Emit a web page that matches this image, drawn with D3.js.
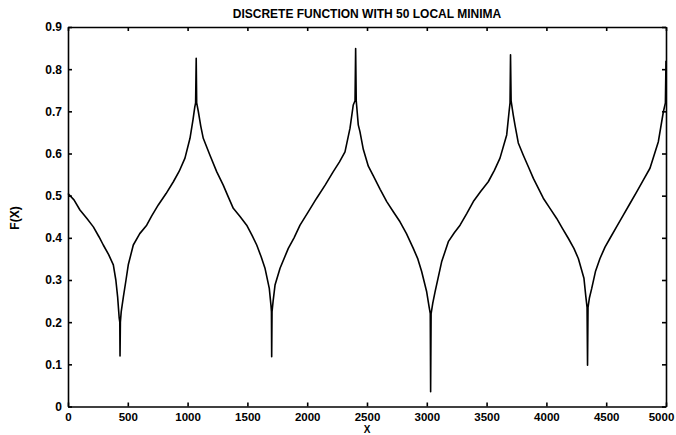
<!DOCTYPE html>
<html>
<head>
<meta charset="utf-8">
<script src="https://cdn.jsdelivr.net/npm/d3@7"></script>
<style>
  body { margin: 0; background: #fff; }
  svg { display: block; font-family: "Liberation Sans", Arial, sans-serif; }
  .axis text { font-size: 12px; font-weight: bold; fill: #000; }
  .x-axis text { font-size: 11.5px; }
  .axis path, .axis line { stroke: #000; stroke-width: 1.6px; }
</style>
</head>
<body>
<svg id="chart" width="676" height="435"></svg>
<script>
// values
const xValues = [
  0, 50, 100, 160, 212, 260, 295, 340, 379, 400, 415, 428, 433, 435, 438, 445, 463, 485, 504, 546,
  600, 658, 700, 755, 820, 881, 930, 978, 1020, 1045, 1060, 1067, 1072, 1076, 1090, 1110, 1131, 1187, 1243, 1298,
  1340, 1382, 1440, 1494, 1540, 1578, 1615, 1647, 1683, 1697, 1701, 1703, 1706, 1715, 1731, 1773, 1842, 1890, 1940, 2010,
  2079, 2150, 2218, 2270, 2316, 2358, 2385, 2400, 2405, 2410, 2427, 2441, 2469, 2511, 2553, 2610, 2665, 2720, 2776, 2830,
  2887, 2925, 2957, 2999, 3020, 3029, 3032, 3036, 3050, 3069, 3124, 3180, 3230, 3278, 3335, 3389, 3450, 3514, 3565, 3612,
  3668, 3690, 3696, 3700, 3705, 3723, 3737, 3765, 3807, 3850, 3891, 3974, 4030, 4086, 4135, 4183, 4230, 4267, 4314, 4330,
  4340, 4344, 4348, 4360, 4379, 4410, 4448, 4490, 4532, 4590, 4643, 4700, 4755, 4810, 4866, 4936, 4978, 4995, 5000
];
const fValues = [
  0.505, 0.49, 0.466, 0.445, 0.426, 0.402, 0.383, 0.36, 0.336, 0.30, 0.26, 0.21, 0.20, 0.12, 0.20, 0.225, 0.26, 0.30, 0.336, 0.383,
  0.41, 0.43, 0.452, 0.478, 0.505, 0.533, 0.558, 0.589, 0.636, 0.68, 0.71, 0.72, 0.826, 0.72, 0.699, 0.665, 0.636, 0.596, 0.557, 0.525,
  0.497, 0.47, 0.45, 0.43, 0.405, 0.383, 0.355, 0.328, 0.28, 0.24, 0.225, 0.118, 0.225, 0.25, 0.288, 0.328, 0.375, 0.40, 0.43, 0.462,
  0.494, 0.525, 0.557, 0.58, 0.604, 0.66, 0.715, 0.725, 0.849, 0.725, 0.668, 0.652, 0.61, 0.57, 0.547, 0.515, 0.486, 0.462, 0.438, 0.41,
  0.375, 0.35, 0.32, 0.272, 0.235, 0.22, 0.035, 0.22, 0.245, 0.272, 0.343, 0.391, 0.412, 0.43, 0.458, 0.486, 0.51, 0.533, 0.56, 0.589,
  0.644, 0.705, 0.72, 0.834, 0.725, 0.691, 0.668, 0.625, 0.596, 0.568, 0.541, 0.494, 0.47, 0.446, 0.422, 0.399, 0.375, 0.351, 0.304, 0.26,
  0.235, 0.098, 0.235, 0.258, 0.28, 0.32, 0.351, 0.378, 0.399, 0.428, 0.454, 0.482, 0.509, 0.537, 0.565, 0.628, 0.699, 0.72, 0.82
];
const xTicks = [0, 500, 1000, 1500, 2000, 2500, 3000, 3500, 4000, 4500, 5000];
const yTicks = [0, 0.1, 0.2, 0.3, 0.4, 0.5, 0.6, 0.7, 0.8, 0.9];

const title = "DISCRETE FUNCTION WITH 50 LOCAL MINIMA";

const width = 676, height = 435;
const margin = { top: 27, right: 10, bottom: 28.5, left: 68 };
const iw = width - margin.left - margin.right;
const ih = height - margin.top - margin.bottom;

const svg = d3.select("#chart");
const g = svg.append("g").attr("transform", `translate(${margin.left},${margin.top})`);

const x = d3.scaleLinear().domain([0, 5000]).range([0, iw]);
const y = d3.scaleLinear().domain([0, 0.9]).range([ih, 0]);

// frame with inward ticks on all four sides
const xAxisG = g.append("g").attr("class", "axis x-axis")
  .attr("transform", `translate(0,${ih})`)
  .call(d3.axisBottom(x).tickValues(xTicks).tickFormat(d3.format("d")).tickSize(-4).tickSizeOuter(0).tickPadding(6));

// last label sits against the window edge, pull it in a little
xAxisG.selectAll(".tick text").filter(d => d === 5000).attr("x", -5);

g.append("g").attr("class", "axis")
  .call(d3.axisTop(x).tickValues(xTicks).tickFormat("").tickSize(-4).tickSizeOuter(0));

g.append("g").attr("class", "axis")
  .call(d3.axisLeft(y).tickValues(yTicks).tickFormat(d => d).tickSize(-4).tickSizeOuter(0).tickPadding(6));

g.append("g").attr("class", "axis")
  .attr("transform", `translate(${iw},0)`)
  .call(d3.axisRight(y).tickValues(yTicks).tickFormat("").tickSize(-4).tickSizeOuter(0));

const pts = xValues.map((v, i) => [v, fValues[i]]);

const line = d3.line()
  .x(d => x(d[0]))
  .y(d => y(d[1]));

g.append("path")
  .datum(pts)
  .attr("fill", "none")
  .attr("stroke", "#000")
  .attr("stroke-width", 1.6)
  .attr("stroke-linejoin", "round")
  .attr("d", line);

// labels
svg.append("text")
  .attr("x", margin.left + iw / 2)
  .attr("y", 18)
  .attr("text-anchor", "middle")
  .style("font-size", "12px")
  .style("font-weight", "bold")
  .text(title);

svg.append("text")
  .attr("x", margin.left + iw / 2)
  .attr("y", 433)
  .attr("text-anchor", "middle")
  .style("font-size", "10px")
  .style("font-weight", "bold")
  .text("X");

svg.append("text")
  .attr("transform", `translate(19,218) rotate(-90)`)
  .attr("text-anchor", "middle")
  .style("font-size", "12px")
  .style("font-weight", "bold")
  .text("F(X)");
</script>
</body>
</html>
